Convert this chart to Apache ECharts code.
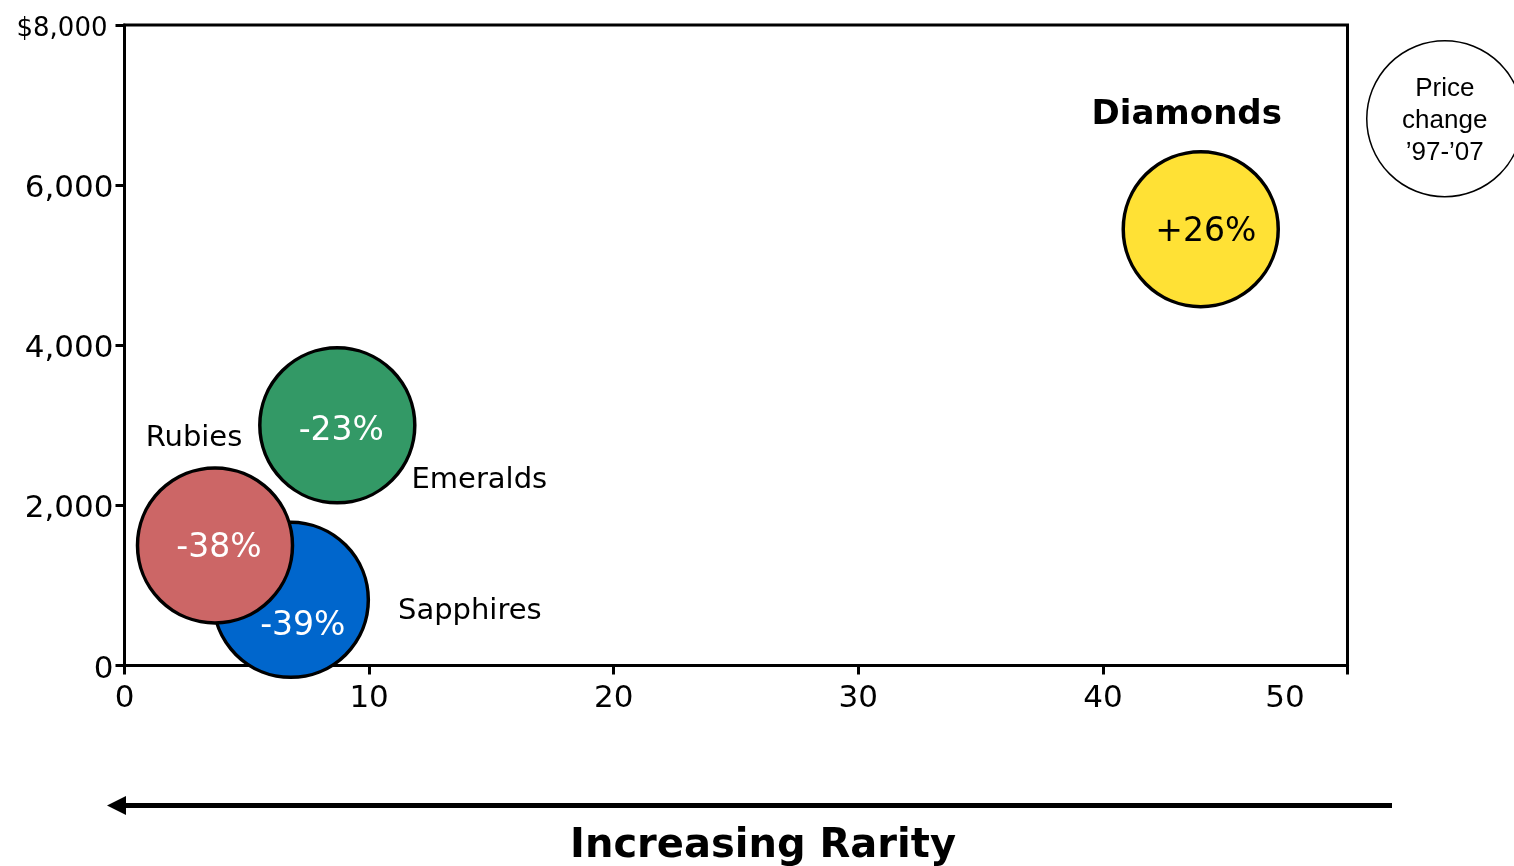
<!DOCTYPE html>
<html>
<head>
<meta charset="utf-8">
<title>Gemstone prices vs rarity</title>
<script src="https://cdn.jsdelivr.net/npm/echarts@6/dist/echarts.min.js"></script>
<style>
  html, body { margin: 0; padding: 0; background: #fff; }
  #chart { width: 1514px; height: 866px; }
</style>
</head>
<body>
<div id="chart"></div>
<script>
// Gemstones: rarity (x), price per carat in $ (y), price change 1997-2007 (%)
const gems = ['Diamonds', 'Emeralds', 'Sapphires', 'Rubies'];
const rarity = [44.0, 8.7, 6.8, 3.7];
const price = [5450, 3000, 820, 1500];
const priceChange = [26, -23, -39, -38];
const gemColors = ['#FFE135', '#339966', '#0066CC', '#CC6666'];

const xTicks = [0, 10, 20, 30, 40, 50];
const yTicks = [0, 2000, 4000, 6000, 8000];

// label placement relative to each bubble centre
const pctOffset = {
  Diamonds: [5, 3], Emeralds: [4, 6], Sapphires: [12, 27], Rubies: [4, 3]
};
const nameOffset = {
  Diamonds: [-14, -114], Emeralds: [142, 55], Sapphires: [179, 12], Rubies: [-21, -107]
};

const BASE_FONT = '"DejaVu Sans", Verdana, sans-serif';

const fmtPct = v => (v > 0 ? '+' : '') + v + '%';
const fmtThousands = v => String(v).replace(/\B(?=(\d{3})+(?!\d))/g, ',');

const bubbleData = gems.map((g, i) => ({
  name: g,
  value: [rarity[i], price[i], priceChange[i]],
  itemStyle: { color: gemColors[i] },
  label: {
    offset: pctOffset[g],
    color: priceChange[i] > 0 ? '#000' : '#fff'
  }
}));

const chart = echarts.init(document.getElementById('chart'), null, { renderer: 'canvas' });

chart.setOption({
  animation: false,
  backgroundColor: '#fff',
  grid: {
    left: 124.5, right: 166.5, top: 25, bottom: 200.5,
    show: true, borderColor: '#000', borderWidth: 3,
    containLabel: false, outerBoundsMode: 'none'
  },
  xAxis: {
    type: 'value',
    min: xTicks[0], max: xTicks[xTicks.length - 1], interval: xTicks[1] - xTicks[0],
    splitLine: { show: false },
    axisLine: { show: true, onZero: false, lineStyle: { color: '#000', width: 3 } },
    axisTick: { show: true, length: 9, lineStyle: { color: '#000', width: 3 } },
    axisLabel: {
      margin: 18,
      color: '#000',
      fontFamily: BASE_FONT,
      fontSize: 31,
      formatter: v => v === xTicks[xTicks.length - 1] ? '{last|' + v + '}' : String(v),
      rich: {
        last: { fontFamily: BASE_FONT, fontSize: 31, color: '#000', padding: [0, 125, 0, 0] }
      }
    }
  },
  yAxis: {
    type: 'value',
    min: yTicks[0], max: yTicks[yTicks.length - 1], interval: yTicks[1] - yTicks[0],
    splitLine: { show: false },
    axisLine: { show: true, onZero: false, lineStyle: { color: '#000', width: 3 } },
    axisTick: { show: true, length: 9, lineStyle: { color: '#000', width: 3 } },
    axisLabel: {
      margin: 11,
      color: '#000',
      fontFamily: BASE_FONT,
      fontSize: 31,
      padding: [8, 0, 0, 0],
      formatter: v => v === yTicks[yTicks.length - 1]
        ? '{top|$' + fmtThousands(v) + '}'
        : fmtThousands(v),
      rich: {
        top: { fontFamily: BASE_FONT, fontSize: 26, color: '#000', padding: [0, 6, 0, 0] }
      }
    }
  },
  series: [
    {
      name: 'bubbles',
      type: 'scatter',
      clip: false,
      symbol: 'circle',
      symbolSize: 155,
      itemStyle: { borderColor: '#000', borderWidth: 3.5, opacity: 1 },
      label: {
        show: true,
        position: 'inside',
        fontFamily: BASE_FONT,
        fontSize: 33,
        formatter: p => fmtPct(p.value[2])
      },
      emphasis: { disabled: true },
      data: bubbleData
    },
    {
      // gem names placed beside each bubble
      name: 'names',
      type: 'custom',
      silent: true,
      z: 5,
      data: gems.map((g, i) => [rarity[i], price[i], i]),
      renderItem: (params, api) => {
        const pt = api.coord([api.value(0), api.value(1)]);
        const g = gems[api.value(2)];
        const off = nameOffset[g];
        const bold = g === 'Diamonds';
        return {
          type: 'text',
          x: pt[0] + off[0],
          y: pt[1] + off[1],
          style: {
            text: g,
            fill: '#000',
            font: (bold ? 'bold 34px ' : '29px ') + BASE_FONT,
            align: 'center',
            verticalAlign: 'middle'
          }
        };
      }
    }
  ],
  graphic: [
    // key bubble explaining the percentage labels
    {
      type: 'group',
      left: 1366, top: 40,
      children: [
        {
          type: 'circle',
          shape: { cx: 78, cy: 78, r: 78 },
          style: { fill: '#fff', stroke: '#000', lineWidth: 1.5 }
        },
        {
          type: 'text',
          x: 78, y: 80,
          style: {
            text: 'Price\nchange\n\u201997-\u201907',
            fill: '#000',
            font: '26px "Liberation Sans", Arial, sans-serif',
            lineHeight: 32,
            align: 'center',
            verticalAlign: 'middle'
          }
        }
      ]
    },
    // rarity arrow
    {
      type: 'line',
      shape: { x1: 1392, y1: 805.5, x2: 124, y2: 805.5 },
      style: { stroke: '#000', lineWidth: 5 }
    },
    {
      type: 'polygon',
      shape: { points: [[107, 805.5], [126, 796], [126, 815]] },
      style: { fill: '#000' }
    },
    {
      type: 'text',
      x: 763, y: 847,
      style: {
        text: 'Increasing Rarity',
        fill: '#000',
        font: 'bold 40px "DejaVu Sans", Verdana, sans-serif',
        align: 'center',
        verticalAlign: 'middle'
      }
    }
  ]
});
</script>
</body>
</html>
